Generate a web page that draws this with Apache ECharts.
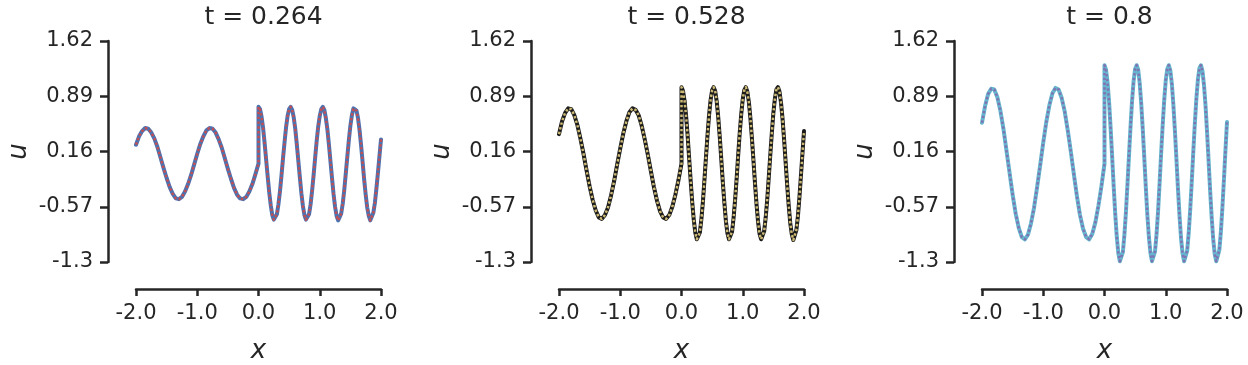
<!DOCTYPE html>
<html><head><meta charset="utf-8">
<script src="https://cdn.jsdelivr.net/npm/echarts@6/dist/echarts.min.js"></script>
<style>html,body{margin:0;padding:0;background:#fff}#c{width:1248px;height:365px}</style>
</head><body><div id="c"></div>
<script>
const titles = ['t = 0.264', 't = 0.528', 't = 0.8'];
const xTicks = [-2, -1, 0, 1, 2];
const yTicks = [-1.3, -0.57, 0.16, 0.89, 1.62];

const xLeft = [-2.00,-1.95,-1.90,-1.85,-1.80,-1.75,-1.70,-1.65,-1.60,-1.55,-1.50,-1.45,-1.40,-1.35,-1.30,-1.25,-1.20,-1.15,-1.10,-1.05,-1.00,-0.95,-0.90,-0.85,-0.80,-0.75,-0.70,-0.65,-0.60,-0.55,-0.50,-0.45,-0.40,-0.35,-0.30,-0.25,-0.20,-0.15,-0.10,-0.05,0.00];
const xRight = [0,0.025,0.05,0.075,0.1,0.125,0.15,0.175,0.2,0.225,0.25,0.275,0.3,0.325,0.35,0.375,0.4,0.425,0.45,0.475,0.5,0.525,0.55,0.575,0.6,0.625,0.65,0.675,0.7,0.725,0.75,0.775,0.8,0.825,0.85,0.875,0.9,0.925,0.95,0.975,1,1.025,1.05,1.075,1.1,1.125,1.15,1.175,1.2,1.225,1.25,1.275,1.3,1.325,1.35,1.375,1.4,1.425,1.45,1.475,1.5,1.525,1.55,1.575,1.6,1.625,1.65,1.675,1.7,1.725,1.75,1.775,1.8,1.825,1.85,1.875,1.9,1.925,1.95,1.975,2];

// t = 0.264
const uLeft1 = [0.25,0.36,0.43,0.47,0.46,0.41,0.33,0.22,0.08,-0.06,-0.19,-0.31,-0.40,-0.46,-0.47,-0.44,-0.37,-0.27,-0.15,-0.01,0.13,0.26,0.36,0.44,0.47,0.46,0.41,0.32,0.21,0.07,-0.07,-0.20,-0.32,-0.41,-0.46,-0.47,-0.44,-0.37,-0.27,-0.14,0.00];
const uRight1 = [0.75,0.72,0.62,0.47,0.27,0.05,-0.17,-0.38,-0.55,-0.68,-0.74,-0.74,-0.67,-0.54,-0.37,-0.16,0.07,0.28,0.48,0.63,0.72,0.75,0.71,0.61,0.46,0.26,0.04,-0.18,-0.39,-0.56,-0.68,-0.74,-0.74,-0.67,-0.54,-0.36,-0.15,0.08,0.30,0.49,0.63,0.72,0.75,0.71,0.60,0.45,0.25,0.03,-0.19,-0.40,-0.57,-0.69,-0.75,-0.74,-0.66,-0.53,-0.35,-0.13,0.09,0.31,0.50,0.64,0.73,0.75,0.70,0.60,0.44,0.24,0.02,-0.21,-0.41,-0.58,-0.69,-0.75,-0.73,-0.65,-0.52,-0.33,-0.12,0.10,0.32];
// t = 0.528
const uLeft2 = [0.39,0.56,0.67,0.73,0.72,0.64,0.51,0.33,0.13,-0.09,-0.30,-0.48,-0.62,-0.71,-0.73,-0.68,-0.58,-0.42,-0.23,-0.01,0.20,0.40,0.56,0.68,0.73,0.71,0.64,0.50,0.32,0.12,-0.10,-0.31,-0.49,-0.63,-0.71,-0.73,-0.68,-0.57,-0.41,-0.22,0.00];
const uRight2 = [1.01,0.96,0.83,0.63,0.37,0.07,-0.23,-0.51,-0.74,-0.91,-1.00,-1.00,-0.91,-0.73,-0.50,-0.21,0.09,0.38,0.64,0.84,0.97,1.01,0.96,0.82,0.61,0.35,0.05,-0.25,-0.52,-0.76,-0.92,-1.00,-0.99,-0.90,-0.72,-0.48,-0.20,0.11,0.40,0.65,0.85,0.97,1.01,0.95,0.81,0.60,0.33,0.04,-0.26,-0.54,-0.77,-0.93,-1.00,-0.99,-0.89,-0.71,-0.47,-0.18,0.12,0.41,0.67,0.86,0.98,1.01,0.95,0.80,0.59,0.32,0.02,-0.28,-0.55,-0.78,-0.93,-1.01,-0.99,-0.88,-0.70,-0.45,-0.16,0.14,0.43];
// t = 0.8
const uLeft3 = [0.54,0.76,0.92,0.99,0.98,0.88,0.70,0.46,0.17,-0.12,-0.41,-0.66,-0.85,-0.97,-1.00,-0.94,-0.79,-0.58,-0.31,-0.02,0.28,0.55,0.77,0.93,1.00,0.98,0.87,0.69,0.44,0.16,-0.14,-0.43,-0.68,-0.86,-0.97,-1.00,-0.93,-0.78,-0.56,-0.30,0.00];
const uRight3 = [1.30,1.24,1.07,0.81,0.47,0.09,-0.30,-0.66,-0.96,-1.18,-1.29,-1.28,-1.17,-0.94,-0.64,-0.27,0.11,0.49,0.83,1.09,1.25,1.30,1.24,1.06,0.79,0.45,0.07,-0.32,-0.68,-0.97,-1.18,-1.29,-1.28,-1.16,-0.93,-0.62,-0.25,0.14,0.51,0.84,1.10,1.25,1.30,1.23,1.05,0.77,0.43,0.05,-0.34,-0.69,-0.99,-1.19,-1.29,-1.28,-1.15,-0.91,-0.60,-0.23,0.16,0.53,0.86,1.11,1.26,1.30,1.22,1.03,0.76,0.41,0.03,-0.36,-0.71,-1.00,-1.20,-1.29,-1.27,-1.14,-0.90,-0.58,-0.21,0.18,0.55];

const leftVals = [uLeft1, uLeft2, uLeft3];
const rightVals = [uRight1, uRight2, uRight3];
const baseColors = ['#4c72b0', '#1c1c1c', '#64b5cd'];
const dotColors = ['#c44e52', '#ccb974', '#8172b3'];

const gridLefts = [136, 559, 982];
const GW = 245, GT = 41, GH = 221;
const TXT = '#262626';
const FONT = 'DejaVu Sans';

const chart = echarts.init(document.getElementById('c'), null, {renderer: 'canvas'});
const grid = [], xAxis = [], yAxis = [], series = [], title = [];
for (let i = 0; i < 3; i++) {
  grid.push({left: gridLefts[i], top: GT, width: GW, height: GH, containLabel: false, outerBoundsMode: 'none'});
  title.push({
    text: titles[i], left: gridLefts[i] + GW / 2, top: 0, textAlign: 'center',
    textStyle: {fontSize: 25, fontWeight: 'normal', color: TXT, fontFamily: FONT}
  });
  xAxis.push({
    gridIndex: i, type: 'value', min: -2, max: 2, interval: 1, offset: 27,
    axisLine: {show: true, onZero: false, lineStyle: {color: TXT, width: 2.5}},
    axisTick: {show: true, inside: false, length: 7, lineStyle: {color: TXT, width: 2.5}},
    axisLabel: {show: true, color: TXT, fontSize: 21, fontFamily: FONT, margin: 14,
      formatter: v => v.toFixed(1)},
    splitLine: {show: false},
    name: 'x', nameLocation: 'middle', nameGap: 49,
    nameTextStyle: {fontSize: 26, fontStyle: 'italic', color: TXT, fontFamily: FONT}
  });
  yAxis.push({
    gridIndex: i, type: 'value', min: -1.3, max: 1.62, offset: 28,
    axisLine: {show: true, onZero: false, lineStyle: {color: TXT, width: 2.5}},
    axisTick: {show: true, inside: false, length: 8, lineStyle: {color: TXT, width: 2.5}, customValues: yTicks},
    axisLabel: {show: true, color: TXT, fontSize: 21, fontFamily: FONT, margin: 15, customValues: yTicks,
      formatter: v => String(v)},
    splitLine: {show: false},
    name: 'u', nameLocation: 'middle', nameGap: 76,
    nameTextStyle: {fontSize: 26, fontStyle: 'italic', color: TXT, fontFamily: FONT}
  });
  const data = xLeft.map((x, j) => [x, leftVals[i][j]]).concat(xRight.map((x, j) => [x, rightVals[i][j]]));
  series.push({
    type: 'line', xAxisIndex: i, yAxisIndex: i, data: data, showSymbol: false, symbol: 'none',
    lineStyle: {color: baseColors[i], width: 4, cap: 'round', join: 'round'}, z: 2, animation: false
  });
  series.push({
    type: 'line', xAxisIndex: i, yAxisIndex: i, data: data, showSymbol: false, symbol: 'none',
    lineStyle: {color: dotColors[i], width: 2.5, type: [2.4, 2.4], cap: 'butt', join: 'round'}, z: 3, animation: false
  });
}
chart.setOption({animation: false, backgroundColor: '#ffffff', title, grid, xAxis, yAxis, series});
</script></body></html>
